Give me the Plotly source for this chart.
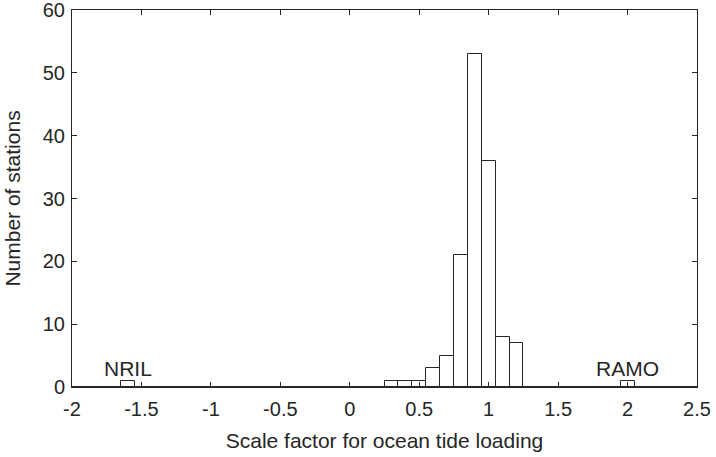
import plotly.graph_objects as go

# Histogram bin centers (scale factor) and station counts
bin_centers = [-1.6, 0.3, 0.4, 0.5, 0.6, 0.7, 0.8, 0.9, 1.0, 1.1, 1.2, 2.0]
counts = [1, 1, 1, 1, 3, 5, 21, 53, 36, 8, 7, 1]
bin_width = 0.1

x_ticks = [-2, -1.5, -1, -0.5, 0, 0.5, 1, 1.5, 2, 2.5]
x_tick_text = ["-2", "-1.5", "-1", "-0.5", "0", "0.5", "1", "1.5", "2", "2.5"]
y_ticks = [0, 10, 20, 30, 40, 50, 60]

labels = [("NRIL", -1.6, 3), ("RAMO", 2.0, 3)]

ink = "#262626"
font_family = "Liberation Sans, Arial, Helvetica, sans-serif"

fig = go.Figure()
fig.add_trace(go.Bar(
    x=bin_centers, y=counts, width=bin_width,
    marker=dict(color="white", line=dict(color=ink, width=1)),
    showlegend=False,
))

for text, xv, yv in labels:
    fig.add_annotation(x=xv, y=yv, text=text, showarrow=False,
                       xanchor="center", yanchor="middle",
                       font=dict(size=21, color=ink, family=font_family))

axis_common = dict(
    showline=True, linecolor=ink, linewidth=1, mirror="ticks",
    ticks="inside", ticklen=5, tickcolor=ink, tickwidth=1,
    showgrid=False, automargin=False, ticklabeloverflow="allow",
    tickfont=dict(size=20, color=ink, family=font_family),
)

fig.update_xaxes(range=[-2, 2.5], tickvals=x_ticks, ticktext=x_tick_text,
                 zeroline=False, ticklabelstandoff=4,
                 title=dict(text="Scale factor for ocean tide loading",
                            font=dict(size=21, color=ink, family=font_family),
                            standoff=14),
                 **axis_common)
fig.update_yaxes(range=[0, 60], tickvals=y_ticks,
                 zeroline=True, zerolinecolor=ink, zerolinewidth=2,
                 ticklabelstandoff=2,
                 title=dict(text="Number of stations",
                            font=dict(size=21, color=ink, family=font_family),
                            standoff=16),
                 **axis_common)

fig.update_layout(
    width=716, height=457,
    margin=dict(l=72, r=19, t=10, b=70),
    plot_bgcolor="white", paper_bgcolor="white",
    bargap=0,
)

fig.write_html("out.html")
